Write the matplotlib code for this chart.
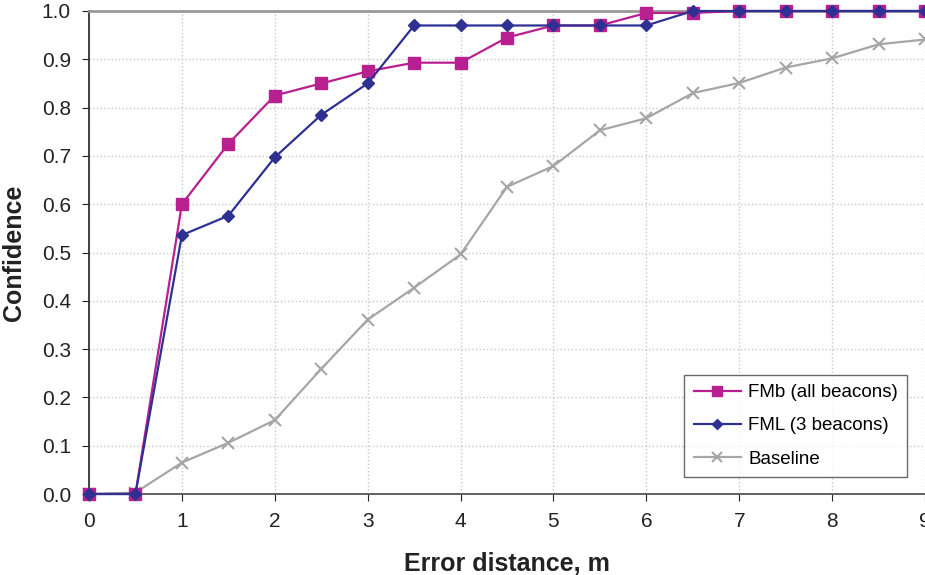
import numpy as np
import matplotlib
matplotlib.use("Agg")
import matplotlib.pyplot as plt

plt.rcParams['font.family'] = ['Liberation Sans', 'DejaVu Sans']

# error distance (m) and confidence values
distance = [0, 0.5, 1, 1.5, 2, 2.5, 3, 3.5, 4, 4.5, 5, 5.5, 6, 6.5, 7, 7.5, 8, 8.5, 9]
fmb_all = [0.0, 0.0, 0.60, 0.725, 0.825, 0.85, 0.875, 0.893, 0.893, 0.945, 0.97, 0.97,
           0.996, 0.996, 1.0, 1.0, 1.0, 1.0, 1.0]
fml_3 = [0.0, 0.0, 0.536, 0.576, 0.697, 0.785, 0.85, 0.97, 0.97, 0.97, 0.97, 0.97,
         0.97, 1.0, 1.0, 1.0, 1.0, 1.0, 1.0]
baseline = [0.0, 0.003, 0.065, 0.106, 0.153, 0.259, 0.361, 0.427, 0.496, 0.636, 0.679,
            0.753, 0.778, 0.830, 0.851, 0.883, 0.902, 0.931, 0.941]

xticks = list(range(0, 10))
yticks = [round(0.1 * i, 1) for i in range(11)]

fig = plt.figure(figsize=(9.25, 5.75), dpi=100)
ax = fig.add_axes([89 / 925, 1 - 494 / 575, 1 - 89 / 925, (494 - 11) / 575])

ax.plot(distance, baseline, color='#A6A6A6', marker='x', markersize=9, mew=1.5,
        lw=1.6, label='Baseline', zorder=3, clip_on=False)
ax.plot(distance, fmb_all, color='#B8208F', marker='s', markersize=8.5,
        lw=1.6, label='FMb (all beacons)', zorder=4, clip_on=False)
ax.plot(distance, fml_3, color='#2E3192', marker='D', markersize=6.5,
        lw=1.6, label='FML (3 beacons)', zorder=5, clip_on=False)

ax.set_xlim(0, 9)
ax.set_ylim(0, 1.0)
ax.set_xticks(xticks)
ax.set_yticks(yticks)
ax.set_yticklabels([f'{v:.1f}' for v in yticks])
ax.tick_params(labelsize=15, colors='#222222', direction='out', length=5, pad=8)
ax.grid(True, color='#C8C8C8', linestyle=':', linewidth=1.0)
ax.set_axisbelow(True)

ax.spines['left'].set_color('#333333')
ax.spines['bottom'].set_color('#555555')
ax.spines['top'].set_color('#999999')
ax.spines['top'].set_linewidth(2)
ax.spines['right'].set_visible(False)
for s in ['left', 'bottom']:
    ax.spines[s].set_linewidth(1.3)

ax.set_xlabel('Error distance, m', fontsize=18, fontweight='bold', labelpad=15,
              color='#222222')
ax.set_ylabel('Confidence', fontsize=18, fontweight='bold', labelpad=11,
              color='#222222')

handles, labels = ax.get_legend_handles_labels()
order = [1, 2, 0]
leg = ax.legend([handles[i] for i in order], [labels[i] for i in order],
                loc='lower right', bbox_to_anchor=(0.99, 0.016), fontsize=13.5,
                frameon=True, fancybox=False, edgecolor='#444444',
                handlelength=2.5, handletextpad=0.4, markerscale=0.85,
                borderpad=0.5, labelspacing=0.85)
leg.get_frame().set_linewidth(1.0)

fig.savefig('out.png', dpi=100)
